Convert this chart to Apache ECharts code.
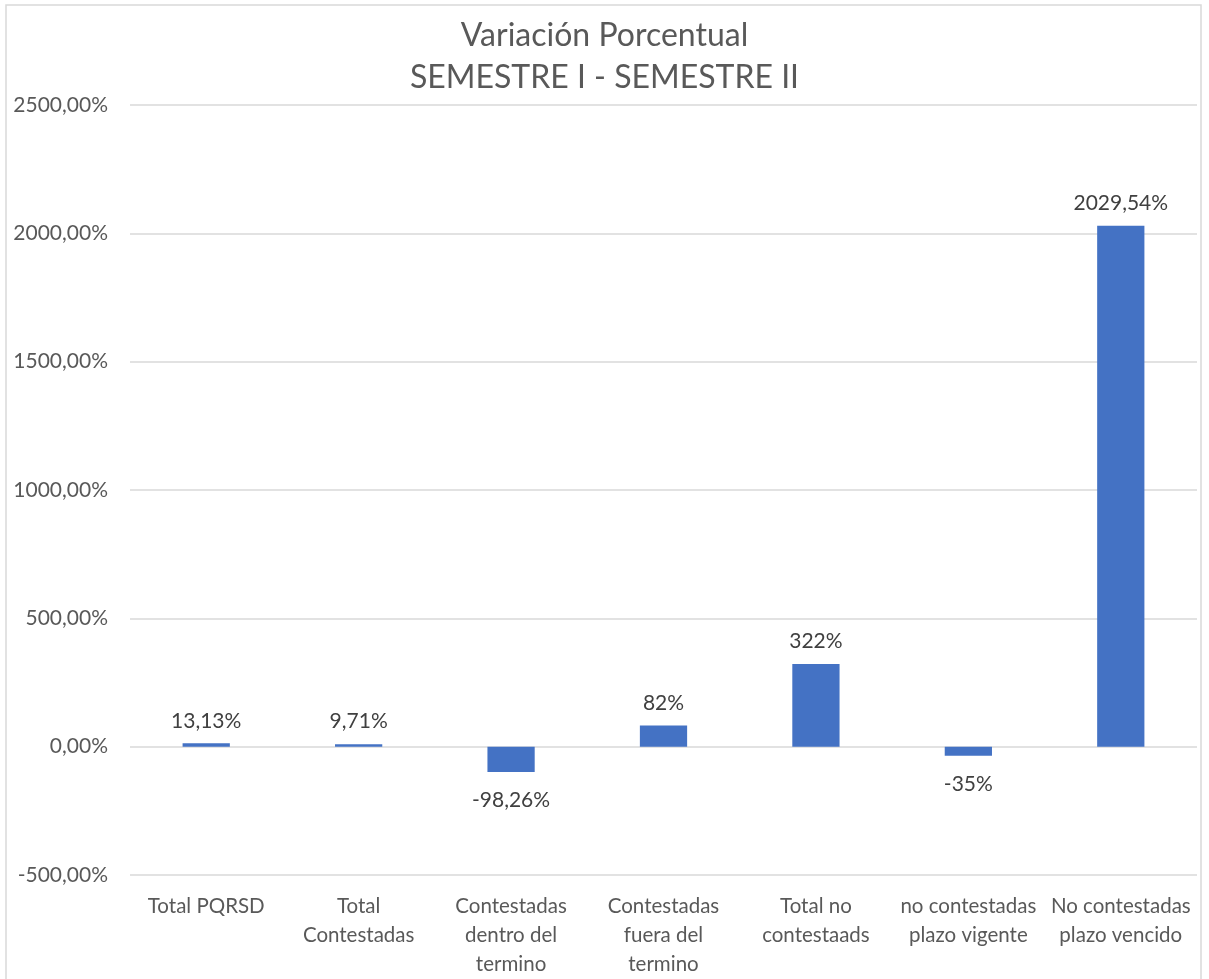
<!DOCTYPE html>
<html><head><meta charset="utf-8">
<script src="https://cdn.jsdelivr.net/npm/echarts@6/dist/echarts.min.js"></script>
<style>html,body{margin:0;padding:0;background:#fff}#c{width:1209px;height:979px}</style>
</head><body><div id="c"></div>
<script>
const categories = ["Total PQRSD","Total\nContestadas","Contestadas\ndentro del\ntermino","Contestadas\nfuera del\ntermino","Total no\ncontestaads","no contestadas\nplazo vigente","No contestadas\nplazo vencido"];
const values = [13.13, 9.71, -98.26, 82, 322, -35, 2029.54];
const valueLabels = ["13,13%","9,71%","-98,26%","82%","322%","-35%","2029,54%"];
const yTicks = {min:-500, max:2500, interval:500};

const FONT = "Lato, 'Open Sans', sans-serif";
const chart = echarts.init(document.getElementById('c'));
chart.setOption({
  animation:false,
  title:{text:"Variación Porcentual\nSEMESTRE I - SEMESTRE II", left:'center', top:10,
    textStyle:{fontFamily:FONT, fontSize:32, fontWeight:'normal', color:'#595959', lineHeight:42}},
  graphic:[{type:'rect', shape:{x:6,y:5,width:1195,height:1000}, style:{fill:'none', stroke:'#d9d9d9', lineWidth:1.5}, silent:true}],
  grid:{left:130, right:12, top:105, bottom:102, containLabel:false},
  xAxis:{type:'category', data:categories,
    axisLine:{show:false}, axisTick:{show:false},
    axisLabel:{interval:0, fontFamily:FONT, fontSize:20.5, color:'#595959', lineHeight:29, margin:17}},
  yAxis:{type:'value', min:yTicks.min, max:yTicks.max, interval:yTicks.interval,
    axisLine:{show:false}, axisTick:{show:false},
    splitLine:{lineStyle:{color:'#d9d9d9', width:1.5}},
    axisLabel:{fontFamily:FONT, fontSize:21, color:'#595959', margin:22,
      formatter:v=>v.toFixed(2).replace('.',',')+'%'}},
  series:[{type:'bar', barWidth:'31%',
    data:values.map((v,i)=>({value:v, label:{position: v>=0?'top':'bottom', distance: v>=0?12:18}})),
    itemStyle:{color:'#4472C4'},
    label:{show:true, fontFamily:FONT, fontSize:21, color:'#404040',
      formatter:p=>valueLabels[p.dataIndex]}
  }]
});
</script></body></html>
